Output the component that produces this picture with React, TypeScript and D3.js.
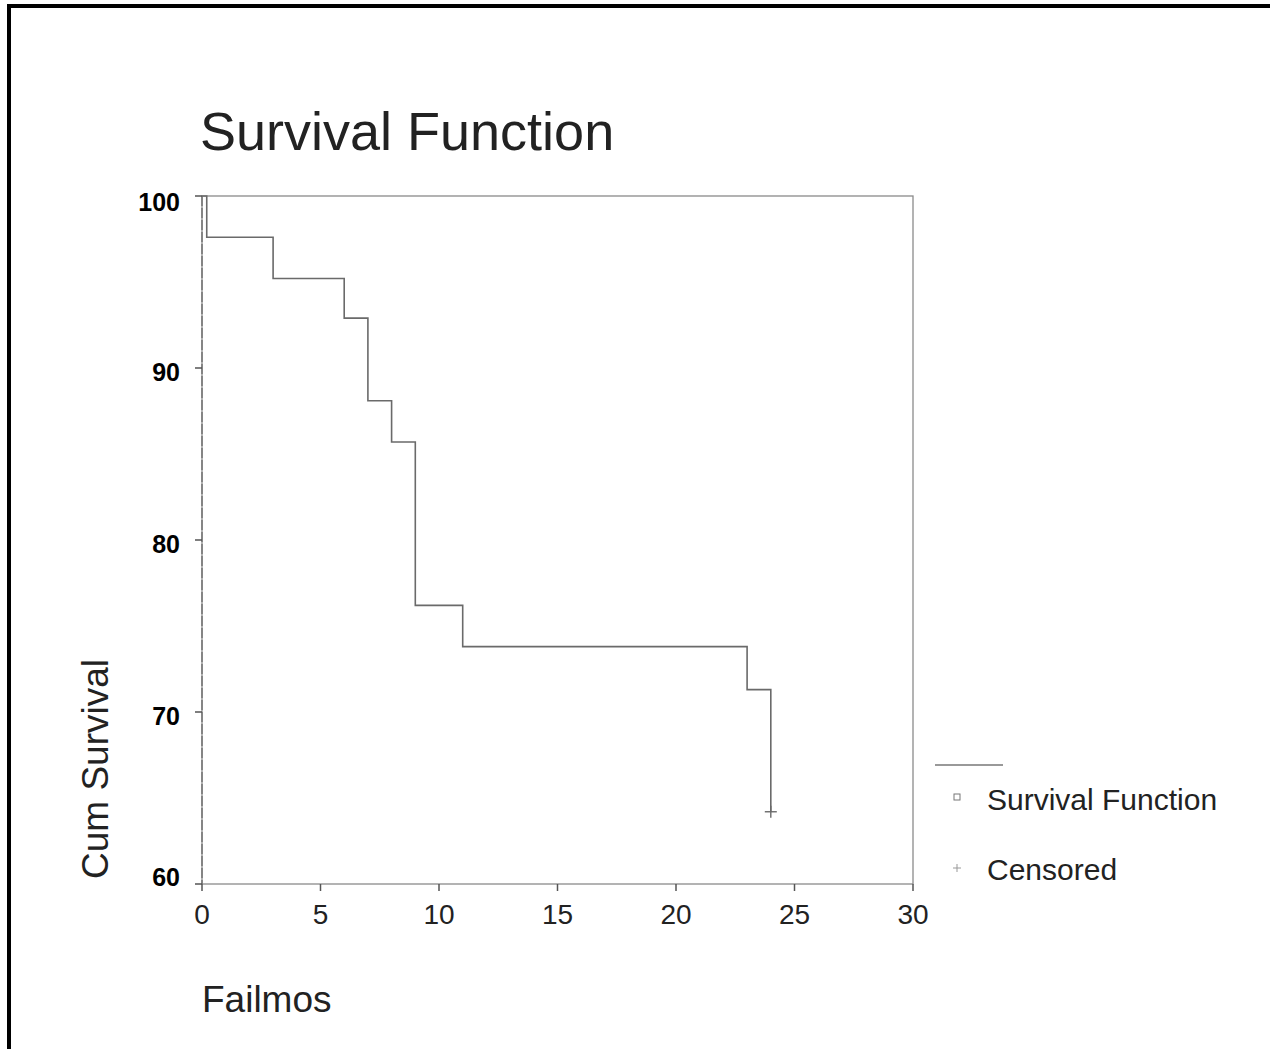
import React from 'react';
import * as d3 from 'd3';

// Kaplan-Meier steps
const times = [0, 0.2, 3, 6, 7, 8, 9, 11, 23, 24];
const survival = [100, 97.6, 95.2, 92.9, 88.1, 85.7, 76.2, 73.8, 71.3, 64.2];
const censoredTimes = [24];
const censoredValues = [64.2];

const xTicks = [0, 5, 10, 15, 20, 25, 30];
const yTicks = [60, 70, 80, 90, 100];
const legendLabels = ['Survival Function', 'Censored'];

const FONT = '"Liberation Sans", Arial, Helvetica, sans-serif';

const App: React.FC = () => {
  const width = 1270;
  const height = 1049;
  const plot = { left: 202, right: 913, top: 196, bottom: 884 };

  const x = d3.scaleLinear().domain([0, 30]).range([plot.left, plot.right]);
  const y = d3.scaleLinear().domain([60, 100]).range([plot.bottom, plot.top]);

  const pts = times.map((t, i) => [t, survival[i]] as [number, number]);
  const line = d3.line<[number, number]>()
    .x(d => x(d[0]))
    .y(d => y(d[1]))
    .curve(d3.curveStepAfter);

  const axisColor = '#8a8a8a';
  const lineColor = '#6a6a6a';

  return (
    <svg width={width} height={height} style={{ position: 'absolute', left: 0, top: 0, background: '#fff' }}>
      {/* outer frame, only top and left visible */}
      <rect x={9} y={6} width={1400} height={1200} fill="none" stroke="#000" strokeWidth={4} />

      <text x={200} y={150} fontFamily={FONT} fontSize={54} fill="#222">Survival Function</text>

      {/* plot frame */}
      <rect x={plot.left} y={plot.top} width={plot.right - plot.left} height={plot.bottom - plot.top}
        fill="none" stroke={axisColor} strokeWidth={1.3} />
      <line x1={plot.left} x2={plot.left} y1={plot.top} y2={plot.bottom} stroke="#777" strokeWidth={1.5} strokeDasharray="10 2" />

      {/* y ticks */}
      {yTicks.map(t => {
        const yy = y(t);
        const ly = Math.min(Math.max(yy + 4, 202), 877);
        return (
          <g key={`y${t}`}>
            <line x1={plot.left - 7} x2={plot.left} y1={yy} y2={yy} stroke="#555" strokeWidth={1.5} />
            <text x={180} y={ly} dy="0.35em" textAnchor="end" fontFamily={FONT} fontSize={25} fontWeight="bold" fill="#000">{t}</text>
          </g>
        );
      })}

      {/* x ticks */}
      {xTicks.map(t => (
        <g key={`x${t}`}>
          <line x1={x(t)} x2={x(t)} y1={plot.bottom} y2={plot.bottom + 7} stroke="#555" strokeWidth={1.5} />
          <text x={x(t)} y={924} textAnchor="middle" fontFamily={FONT} fontSize={28} fill="#222">{t}</text>
        </g>
      ))}

      <text transform="translate(108,769) rotate(-90)" textAnchor="middle" fontFamily={FONT} fontSize={37} fill="#222">Cum Survival</text>
      <text x={202} y={1012} fontFamily={FONT} fontSize={37} fill="#222">Failmos</text>

      {/* survival curve */}
      <path d={line(pts) ?? ''} fill="none" stroke={lineColor} strokeWidth={1.6} />

      {/* censored marks */}
      {censoredTimes.map((t, i) => (
        <g key={`c${i}`} stroke={lineColor} strokeWidth={1.4}>
          <line x1={x(t) - 6} x2={x(t) + 6} y1={y(censoredValues[i])} y2={y(censoredValues[i])} />
          <line x1={x(t)} x2={x(t)} y1={y(censoredValues[i]) - 6} y2={y(censoredValues[i]) + 6} />
        </g>
      ))}

      {/* legend */}
      <line x1={935} x2={1003} y1={765} y2={765} stroke="#777" strokeWidth={1.3} />
      <rect x={954} y={794} width={6} height={6} fill="none" stroke="#777" strokeWidth={1} />
      <text x={987} y={810} fontFamily={FONT} fontSize={30} fill="#222">{legendLabels[0]}</text>
      <g stroke="#999" strokeWidth={1}>
        <line x1={953} x2={961} y1={868} y2={868} />
        <line x1={957} x2={957} y1={864} y2={872} />
      </g>
      <text x={987} y={880} fontFamily={FONT} fontSize={30} fill="#222">{legendLabels[1]}</text>
    </svg>
  );
};

export default App;
